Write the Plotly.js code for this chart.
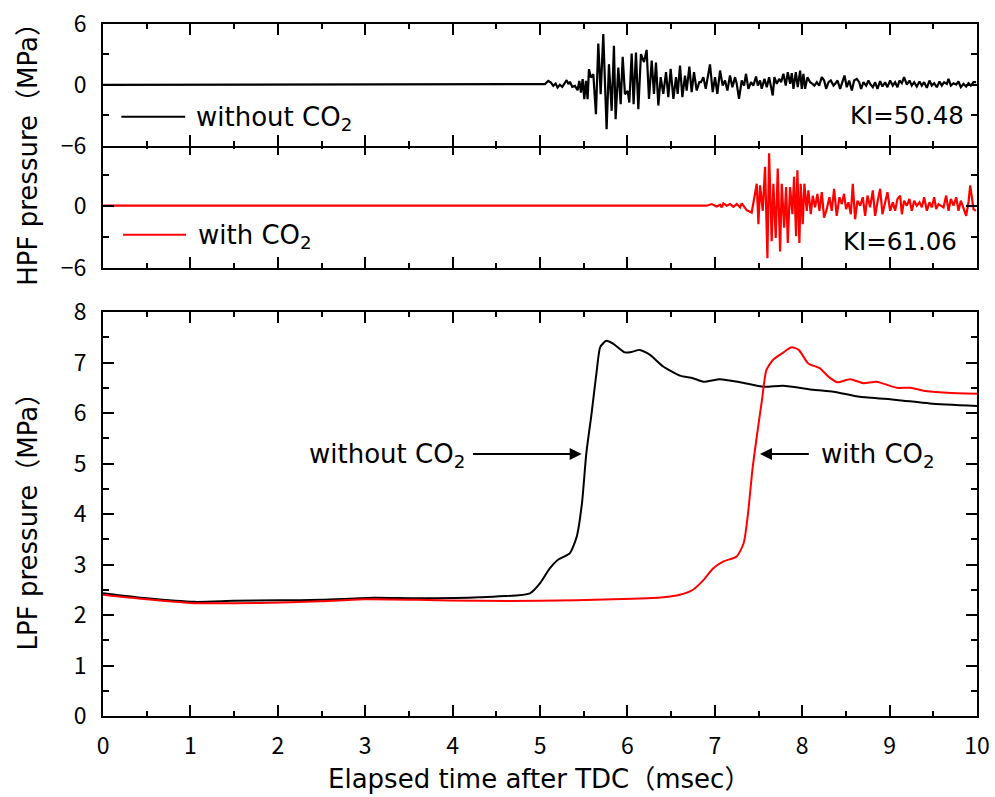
<!DOCTYPE html>
<html>
<head>
<meta charset="utf-8">
<script src="https://cdn.plot.ly/plotly-3.0.1.min.js"></script>
<style>html,body{margin:0;padding:0;background:#fff;}#chart{width:995px;height:797px;}</style>
</head>
<body>
<div id="chart"></div>
<script>
// ---- LPF pressure (MPa) vs elapsed time (msec) ----
var lpfTimeNoCO2 = [0, 0.5, 1.05, 1.5, 2.0, 2.5, 3.1, 3.6, 4.3, 4.885, 5.0, 5.11, 5.21, 5.34, 5.42, 5.48, 5.53, 5.59, 5.65, 5.69, 5.76, 5.84, 5.97, 6.05, 6.14, 6.26, 6.41, 6.60, 6.75, 6.87, 7.06, 7.29, 7.56, 7.78, 8.13, 8.36, 8.66, 9.08, 9.46, 10.0];
var lpfNoCO2     = [2.43, 2.33, 2.26, 2.28, 2.29, 2.30, 2.34, 2.33, 2.35, 2.43, 2.63, 2.92, 3.10, 3.22, 3.55, 4.21, 5.20, 5.99, 6.85, 7.31, 7.43, 7.37, 7.20, 7.21, 7.25, 7.15, 6.92, 6.74, 6.69, 6.62, 6.67, 6.61, 6.52, 6.54, 6.46, 6.42, 6.32, 6.26, 6.19, 6.14];
var lpfTimeCO2 = [0, 0.5, 1.0, 1.8, 2.5, 3.0, 3.6, 4.3, 5.0, 5.84, 6.41, 6.60, 6.75, 6.87, 6.98, 7.10, 7.25, 7.33, 7.38, 7.43, 7.48, 7.54, 7.59, 7.67, 7.77, 7.88, 7.96, 8.07, 8.20, 8.30, 8.40, 8.55, 8.70, 8.85, 9.08, 9.24, 9.39, 9.66, 10.0];
var lpfCO2     = [2.40, 2.31, 2.24, 2.24, 2.27, 2.31, 2.30, 2.28, 2.28, 2.31, 2.35, 2.40, 2.50, 2.69, 2.92, 3.06, 3.16, 3.42, 4.01, 4.87, 5.53, 6.26, 6.85, 7.06, 7.18, 7.30, 7.25, 6.98, 6.89, 6.72, 6.61, 6.67, 6.59, 6.62, 6.50, 6.50, 6.44, 6.40, 6.38];

// ---- HPF pressure (MPa), without CO2 ----
var hpfTimeNoCO2 = [0, 2.5, 5.0, 5.056, 5.095, 5.125, 5.152, 5.179, 5.201, 5.228, 5.255, 5.285, 5.305, 5.324, 5.343, 5.369, 5.400, 5.430, 5.450, 5.469, 5.488, 5.507, 5.526, 5.545, 5.560, 5.583, 5.610, 5.640, 5.667, 5.694, 5.724, 5.762, 5.789, 5.820, 5.846, 5.865, 5.896, 5.923, 5.946, 5.972, 6.003, 6.022, 6.049, 6.071, 6.098, 6.125, 6.155, 6.190, 6.220, 6.247, 6.278, 6.304, 6.327, 6.354, 6.381, 6.411, 6.442, 6.468, 6.495, 6.526, 6.556, 6.575, 6.602, 6.629, 6.659, 6.678, 6.709, 6.735, 6.762, 6.793, 6.823, 6.842, 6.869, 6.896, 6.926, 6.945, 6.976, 7.003, 7.029, 7.060, 7.090, 7.117, 7.144, 7.174, 7.201, 7.232, 7.251, 7.277, 7.308, 7.335, 7.357, 7.384, 7.415, 7.441, 7.472, 7.492, 7.518, 7.537, 7.568, 7.595, 7.621, 7.644, 7.663, 7.682, 7.709, 7.736, 7.759, 7.785, 7.812, 7.835, 7.862, 7.881, 7.900, 7.927, 7.949, 7.976, 7.995, 8.014, 8.033, 8.060, 8.091, 8.117, 8.140, 8.167, 8.194, 8.224, 8.251, 8.274, 8.301, 8.327, 8.358, 8.377, 8.404, 8.434, 8.461, 8.484, 8.510, 8.537, 8.568, 8.594, 8.625, 8.652, 8.674, 8.701, 8.732, 8.758, 8.777, 8.808, 8.834, 8.861, 8.892, 8.918, 8.949, 8.975, 9.006, 9.036, 9.063, 9.090, 9.113, 9.140, 9.166, 9.197, 9.227, 9.254, 9.281, 9.311, 9.342, 9.369, 9.395, 9.426, 9.456, 9.483, 9.510, 9.540, 9.571, 9.597, 9.624, 9.655, 9.674, 9.701, 9.731, 9.762, 9.788, 9.815, 9.846, 9.876, 9.903, 9.929, 9.960, 9.990];
var hpfNoCO2     = [0, 0.02, 0, 0.07, 0.39, 0.23, -0.10, 0.13, -0.26, 0, -0.20, 0.23, 0.46, 0.07, 0.30, -0.20, -0.10, -0.53, 0.39, -0.76, 0.56, -1.41, 0.39, -1.41, 1.55, 0.72, 1.05, -2.89, 4.08, -0.92, 5.00, -4.38, 2.04, -2.56, 3.85, -3.39, 1.71, -1.91, 2.76, -0.92, -0.59, -1.74, 3.09, -1.91, 3.19, -2.40, 3.03, 2.24, 3.45, -1.38, 2.40, -0.89, 2.20, -2.04, 0.76, -0.89, 1.25, -1.22, 1.58, -1.38, 0.76, -0.89, 1.91, -1.22, 0.92, -0.56, 1.81, -0.72, 1.25, -0.56, 0.26, 0.26, 0.76, -0.39, 1.09, 2.01, -0.72, 0.76, -0.89, 1.41, -0.07, 0.43, -0.56, 0.92, -0.23, 0.76, 0.10, -1.38, 0.43, -0.07, 1.09, -0.39, 0.26, -0.07, 0.82, -0.07, 0.43, -0.39, 0.59, -0.23, 0.76, -0.07, -1.05, 0.76, 0.10, 0.59, 0.26, 1.09, -0.07, 1.25, 0.10, 1.15, -0.39, 1.25, -0.23, 1.41, -0.39, 1.09, -0.39, 0.76, 0.26, 0.10, -0.07, 0.26, -0.07, 0.76, 0.43, -0.39, 0.26, 0.43, -0.07, 0.10, 0.43, -0.39, 0.26, 0.92, -0.23, 0.43, -0.56, 0.43, 0.59, 0.26, -0.39, 0.26, -0.07, 0.43, 0.10, -0.23, 0.26, -0.39, 0.36, -0.16, 0.26, -0.23, 0.43, -0.07, 0.26, -0.23, 0.43, 0.16, 0.76, 0.03, 0.43, -0.07, 0.26, -0.16, 0.33, -0.07, 0.26, -0.30, 0.43, -0.07, 0.16, -0.23, 0.33, -0.07, 0.26, 0.10, 0.59, -0.07, 0.16, 0.03, 0.33, -0.23, 0.10, -0.16, 0.16, -0.07, 0.26, 0.26];

// ---- HPF pressure (MPa), with CO2 ----
var hpfTimeCO2 = [0, 3.0, 6.0, 6.907, 6.964, 7.022, 7.060, 7.079, 7.098, 7.136, 7.174, 7.213, 7.251, 7.289, 7.308, 7.327, 7.365, 7.422, 7.449, 7.480, 7.499, 7.518, 7.548, 7.575, 7.602, 7.621, 7.651, 7.670, 7.697, 7.720, 7.747, 7.766, 7.793, 7.816, 7.835, 7.861, 7.888, 7.907, 7.930, 7.945, 7.968, 7.983, 8.006, 8.025, 8.052, 8.071, 8.098, 8.121, 8.147, 8.174, 8.197, 8.224, 8.250, 8.281, 8.311, 8.338, 8.365, 8.395, 8.426, 8.453, 8.479, 8.502, 8.529, 8.556, 8.579, 8.605, 8.632, 8.663, 8.693, 8.720, 8.747, 8.777, 8.808, 8.834, 8.861, 8.892, 8.918, 8.949, 8.976, 9.006, 9.037, 9.063, 9.090, 9.121, 9.140, 9.166, 9.197, 9.227, 9.254, 9.281, 9.311, 9.342, 9.369, 9.395, 9.426, 9.456, 9.483, 9.510, 9.533, 9.559, 9.586, 9.617, 9.647, 9.674, 9.701, 9.731, 9.762, 9.788, 9.815, 9.846, 9.876, 9.903, 9.922, 9.941, 9.960, 9.987];
var hpfCO2     = [0, 0.01, 0, 0, 0.16, -0.07, 0.10, -0.16, 0.23, 0, 0.16, -0.10, 0.16, -0.16, 0.23, 0, -0.43, -0.66, 0.49, 2.13, -1.80, 1.97, -0.49, 3.77, -5.08, 5.08, -3.44, 2.13, -3.11, 3.61, -4.43, 2.13, -2.13, 1.80, -3.61, 1.80, -0.82, 2.79, -2.95, 3.44, -3.61, 2.13, -1.80, 2.13, -0.49, 1.48, -0.82, 0.98, -0.16, 1.15, -0.49, 1.31, -1.15, -0.33, 0.82, -0.49, 1.64, -0.98, 0.82, 0.16, 1.15, -0.33, 0.33, -0.82, 2.13, -1.31, 0.49, 0, 0.82, -0.98, 0.98, -0.16, 1.48, -0.98, 0.33, 1.64, -0.82, 0.49, 1.31, -0.49, 0.33, -0.49, 0.66, 0.98, -0.82, 0.49, 0, 0.66, -0.49, 0.49, 0, 0.33, -0.16, 0.82, -0.49, 0.33, -0.16, 0.82, -0.33, 0.16, 0, -0.16, 0.98, -0.49, 0.66, 0, 0.82, -0.49, 0.49, -0.16, -0.98, 0.33, 1.97, 0.82, -0.33, -0.49];

var xTicks = [0, 1, 2, 3, 4, 5, 6, 7, 8, 9, 10];
var hpfTopTicks = [-6, 0, 6];
var hpfTopLabels = ['\u22126', '0', '6'];
var hpfMidTicks = [-6, 0];
var hpfMidLabels = ['\u22126', '0'];
var lpfTicks = [0, 1, 2, 3, 4, 5, 6, 7, 8];

var BLACK = '#000000', RED = '#ff0000';
var TICKFONT = {family: 'Noto Sans CJK JP, sans-serif', size: 23, color: '#000'};
var TXT = 'DejaVu Sans, Noto Sans CJK JP, sans-serif';

var traces = [
  {x: hpfTimeNoCO2, y: hpfNoCO2, xaxis: 'x3', yaxis: 'y3', mode: 'lines', line: {color: BLACK, width: 2.2}, name: 'without CO2', showlegend: false, hoverinfo: 'skip'},
  {x: hpfTimeCO2, y: hpfCO2, xaxis: 'x2', yaxis: 'y2', mode: 'lines', line: {color: RED, width: 2.2}, name: 'with CO2', showlegend: false, hoverinfo: 'skip'},
  {x: lpfTimeNoCO2, y: lpfNoCO2, xaxis: 'x', yaxis: 'y', mode: 'lines', line: {color: BLACK, width: 2, shape: 'spline', smoothing: 0.6}, showlegend: false, hoverinfo: 'skip'},
  {x: lpfTimeCO2, y: lpfCO2, xaxis: 'x', yaxis: 'y', mode: 'lines', line: {color: RED, width: 2, shape: 'spline', smoothing: 0.6}, showlegend: false, hoverinfo: 'skip'}
];

function xAxis(anchor, labels) {
  return {
    domain: [0, 1], range: [0, 10], anchor: anchor,
    tickmode: 'array', tickvals: xTicks, showticklabels: labels,
    ticks: 'inside', ticklen: 11, tickwidth: 2, tickcolor: '#000',
    minor: {dtick: 0.5, tick0: 0, ticks: 'inside', ticklen: 5, tickwidth: 2, tickcolor: '#000', showgrid: false},
    showline: true, linewidth: 2, linecolor: '#000', mirror: 'ticks',
    showgrid: false, zeroline: false, tickfont: TICKFONT, ticklabelstandoff: 8
  };
}
function hpfAxis(domain, anchor, vals, text) {
  return {
    domain: domain, range: [-6, 6], anchor: anchor,
    tickmode: 'array', tickvals: vals, ticktext: text,
    ticks: 'inside', ticklen: 11, tickwidth: 2, tickcolor: '#000',
    minor: {tickmode: 'array', tickvals: [-3, 3], ticks: 'inside', ticklen: 6, tickwidth: 2, tickcolor: '#000', showgrid: false},
    showline: true, linewidth: 2, linecolor: '#000', mirror: 'ticks',
    showgrid: false, zeroline: false, tickfont: TICKFONT, ticklabelstandoff: 10
  };
}

var layout = {
  width: 995, height: 797,
  margin: {l: 103, r: 18, t: 24, b: 81},
  paper_bgcolor: '#fff', plot_bgcolor: '#fff',
  showlegend: false,
  xaxis: xAxis('y', true),
  xaxis2: xAxis('y2', false),
  xaxis3: xAxis('y3', false),
  yaxis: {
    domain: [0, 0.5838], range: [0, 8], anchor: 'x',
    tickmode: 'array', tickvals: lpfTicks,
    ticks: 'inside', ticklen: 11, tickwidth: 2, tickcolor: '#000',
    minor: {dtick: 0.5, tick0: 0, ticks: 'inside', ticklen: 6, tickwidth: 2, tickcolor: '#000', showgrid: false},
    showline: true, linewidth: 2, linecolor: '#000', mirror: 'ticks',
    showgrid: false, zeroline: false, tickfont: TICKFONT, ticklabelstandoff: 10
  },
  yaxis2: hpfAxis([0.6478, 0.8270], 'x2', hpfMidTicks, hpfMidLabels),
  yaxis3: hpfAxis([0.8241, 1], 'x3', hpfTopTicks, hpfTopLabels),
  shapes: [
    {type: 'line', xref: 'x3', yref: 'y3', x0: 0.21, x1: 0.94, y0: -3.15, y1: -3.15, line: {color: BLACK, width: 2}},
    {type: 'line', xref: 'x2', yref: 'y2', x0: 0.23, x1: 0.95, y0: -2.8, y1: -2.8, line: {color: RED, width: 2}}
  ],
  annotations: [
    {xref: 'x3', yref: 'y3', x: 1.04, y: -3.3, xanchor: 'left', yanchor: 'middle', showarrow: false, text: 'without CO<sub>2</sub>', font: {family: TXT, size: 26, color: '#000'}},
    {xref: 'x3', yref: 'y3', x: 9.87, y: -3.06, xanchor: 'right', yanchor: 'middle', showarrow: false, text: 'KI=50.48', font: {family: TXT, size: 24.5, color: '#000'}},
    {xref: 'x2', yref: 'y2', x: 1.06, y: -2.95, xanchor: 'left', yanchor: 'middle', showarrow: false, text: 'with CO<sub>2</sub>', font: {family: TXT, size: 26, color: '#000'}},
    {xref: 'x2', yref: 'y2', x: 9.79, y: -3.44, xanchor: 'right', yanchor: 'middle', showarrow: false, text: 'KI=61.06', font: {family: TXT, size: 24.5, color: '#000'}},
    {xref: 'x', yref: 'y', x: 5.477, y: 5.19, axref: 'x', ayref: 'y', ax: 4.2, ay: 5.19, showarrow: true, text: ' ', arrowhead: 2, arrowsize: 1.2, arrowwidth: 2, arrowcolor: '#000'},
    {xref: 'x', yref: 'y', x: 7.517, y: 5.19, axref: 'x', ayref: 'y', ax: 8.11, ay: 5.19, showarrow: true, text: ' ', arrowhead: 2, arrowsize: 1.2, arrowwidth: 2, arrowcolor: '#000'},
    {xref: 'x', yref: 'y', x: 4.17, y: 5.15, xanchor: 'right', yanchor: 'middle', showarrow: false, text: 'without CO<sub>2</sub>', font: {family: TXT, size: 26, color: '#000'}},
    {xref: 'x', yref: 'y', x: 8.19, y: 5.15, xanchor: 'left', yanchor: 'middle', showarrow: false, text: 'with CO<sub>2</sub>', font: {family: TXT, size: 26, color: '#000'}},
    {xref: 'paper', yref: 'paper', x: 0.499, y: -0.091, xanchor: 'center', yanchor: 'middle', showarrow: false, text: 'Elapsed time after TDC\uFF08msec\uFF09', font: {family: TXT, size: 26, color: '#000'}},
    {xref: 'paper', yref: 'paper', x: -0.086, y: 0.291, xanchor: 'center', yanchor: 'middle', showarrow: false, textangle: -90, text: 'LPF pressure\uFF08MPa\uFF09', font: {family: TXT, size: 26, color: '#000'}},
    {xref: 'paper', yref: 'paper', x: -0.086, y: 0.821, xanchor: 'center', yanchor: 'middle', showarrow: false, textangle: -90, text: 'HPF pressure\uFF08MPa\uFF09', font: {family: TXT, size: 26, color: '#000'}}
  ]
};

Plotly.newPlot('chart', traces, layout, {staticPlot: true, displayModeBar: false});
</script>
</body>
</html>
